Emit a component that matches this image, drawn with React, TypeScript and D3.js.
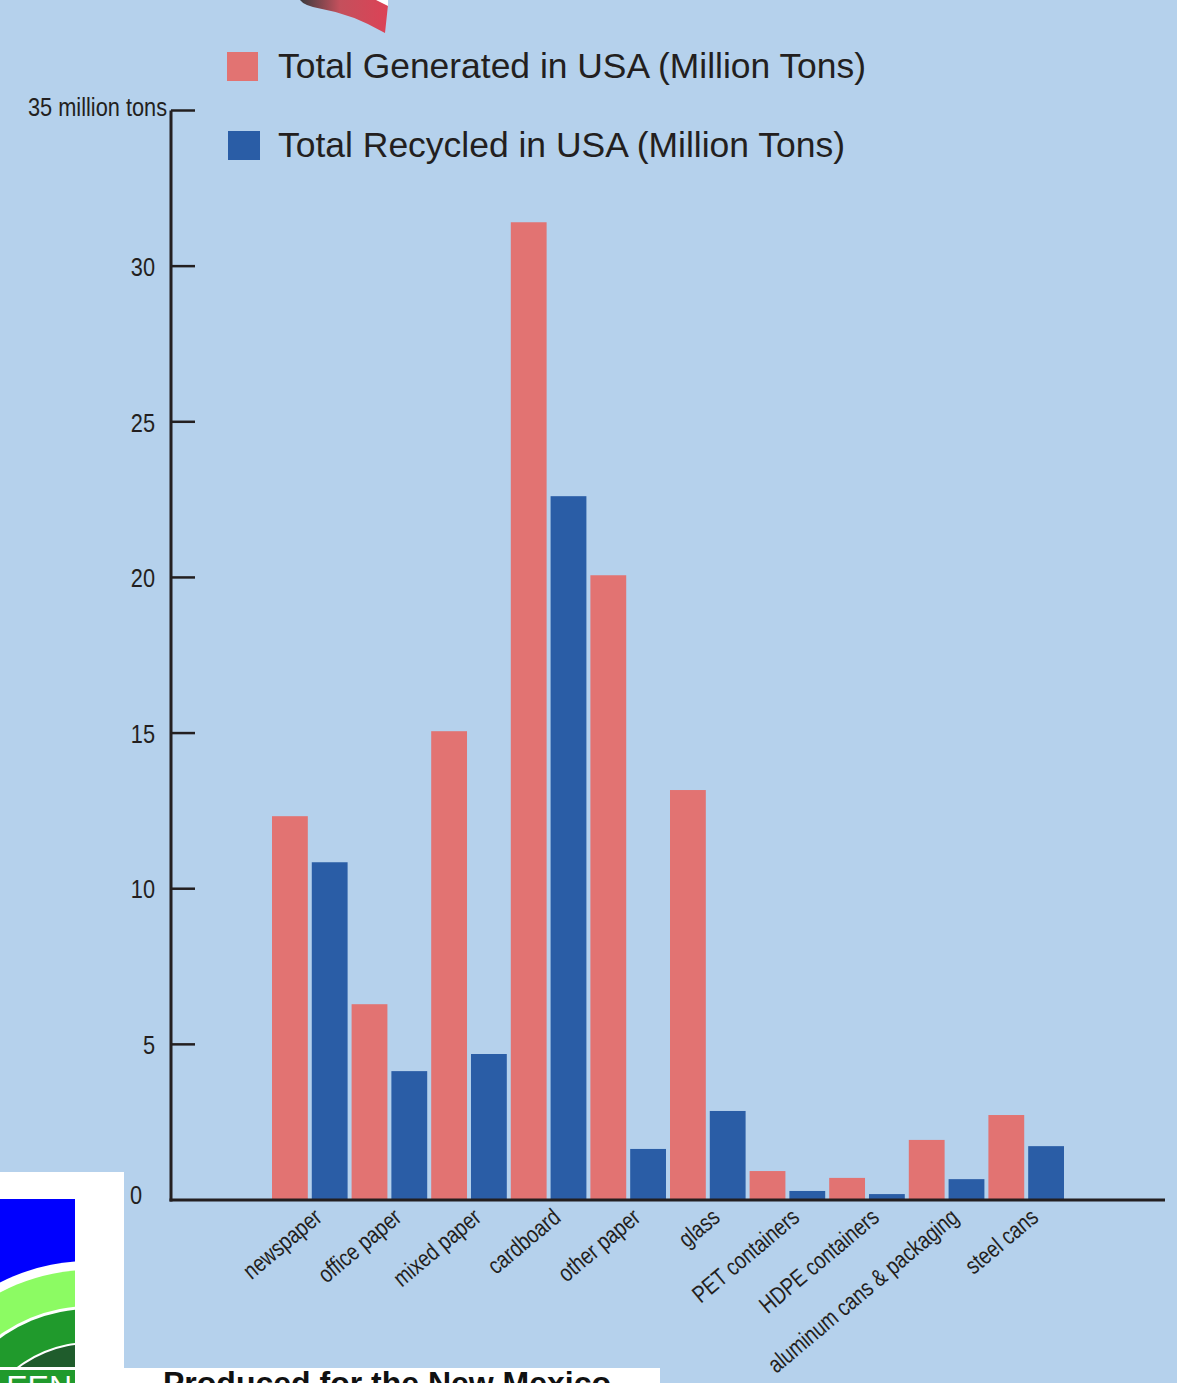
import React from 'react';
import * as d3 from 'd3';

const categories = [
  'newspaper',
  'office paper',
  'mixed paper',
  'cardboard',
  'other paper',
  'glass',
  'PET containers',
  'HDPE containers',
  'aluminum cans & packaging',
  'steel cans',
];

const seriesNames = ['Total Generated in USA (Million Tons)', 'Total Recycled in USA (Million Tons)'];
const generated = [12.33, 6.29, 15.06, 31.41, 20.07, 13.17, 0.93, 0.71, 1.93, 2.73];
const recycled = [10.85, 4.14, 4.69, 22.61, 1.64, 2.86, 0.29, 0.19, 0.67, 1.73];
const yTicks = [0, 5, 10, 15, 20, 25, 30];
const topTickLabel = '35 million tons';

const WIDTH = 1177;
const HEIGHT = 1383;
const BG = '#b5d1ec';
const COLORS = ['#e27372', '#2a5da6'];
const INK = '#231f20';
const SANS = '"Liberation Sans", Arial, sans-serif';
// no narrow face installed, so squeeze the regular one
const SQUEEZE = 0.8;
const TICK_SQUEEZE = 0.87;

export default function App() {
  const y = d3.scaleLinear().domain([0, 35]).range([1200, 110.5]);
  const x0 = d3.scaleBand<string>().domain(categories).range([270, 1066]).padding(0);
  const x1 = d3.scaleBand<number>()
    .domain([0, 1])
    .range([2, x0.bandwidth() - 2])
    .paddingInner(0.1);

  const series = [generated, recycled];
  const axisX = 171;
  const baseY = y(0);

  return (
    <svg
      width={WIDTH}
      height={HEIGHT}
      style={{ position: 'absolute', left: 0, top: 0, background: BG }}
    >
      <defs>
        <linearGradient id="flag" x1="0" x2="1" y1="0" y2="0">
          <stop offset="0" stopColor="#3b3b3d" />
          <stop offset="0.45" stopColor="#c4505c" />
          <stop offset="1" stopColor="#dc4256" />
        </linearGradient>
        <clipPath id="logoClip">
          <rect x={0} y={1199} width={75} height={168} />
        </clipPath>
      </defs>
      <rect width={WIDTH} height={HEIGHT} fill={BG} />

      {/* flag fragment at the top */}
      <path d="M300,0 Q304,6 322,9 Q352,14 385,33 L388,5 L388,0 Z" fill="url(#flag)" />
      <path d="M376,0 L388,0 L388,6 Z" fill="#ffffff" />

      {/* legend */}
      {seriesNames.map((name, i) => (
        <g key={name}>
          <rect x={227 + i} y={52 + i * 79} width={31 + i} height={29} fill={COLORS[i]} />
          <text
            x={278}
            y={78 + i * 79}
            fontFamily={SANS}
            fontSize={35}
            fill={INK}
            textLength={i === 0 ? 588 : 567}
            lengthAdjust="spacingAndGlyphs"
          >
            {name}
          </text>
        </g>
      ))}

      {/* bars */}
      {categories.map((cat, ci) => (
        <g key={cat} transform={`translate(${x0(cat)},0)`}>
          {series.map((vals, si) => (
            <rect
              key={si}
              x={x1(si)}
              y={y(vals[ci])}
              width={x1.bandwidth()}
              height={baseY - y(vals[ci])}
              fill={COLORS[si]}
            />
          ))}
        </g>
      ))}

      {/* axes */}
      <line x1={axisX} x2={axisX} y1={y(35)} y2={baseY + 1.5} stroke={INK} strokeWidth={3} />
      <line x1={axisX - 1.5} x2={1165} y1={baseY} y2={baseY} stroke={INK} strokeWidth={3} />
      {yTicks.filter(t => t > 0).concat([35]).map(t => (
        <line key={t} x1={axisX} x2={195} y1={y(t)} y2={y(t)} stroke={INK} strokeWidth={2.5} />
      ))}
      {yTicks.map(t => (
        <text
          key={t}
          transform={`translate(${t === 0 ? 142 : 155},${y(t) + (t === 0 ? -5 : 1)}) scale(${TICK_SQUEEZE},1)`}
          dy="0.35em"
          textAnchor="end"
          fontFamily={SANS}
          fontSize={25}
          fill={INK}
        >
          {t}
        </text>
      ))}
      <text
        transform={`translate(167,${y(35) - 3}) scale(${TICK_SQUEEZE},1)`}
        dy="0.35em"
        textAnchor="end"
        fontFamily={SANS}
        fontSize={25}
        fill={INK}
      >
        {topTickLabel}
      </text>

      {/* category labels */}
      {categories.map(cat => {
        const cx = (x0(cat) ?? 0) + x0.bandwidth() / 2 + 2;
        return (
          <text
            key={cat}
            transform={`translate(${cx},${1206}) rotate(-40) scale(${SQUEEZE},1)`}
            textAnchor="end"
            dy="0.75em"
            fontFamily={SANS}
            fontSize={24}
            fill={INK}
          >
            {cat}
          </text>
        );
      })}

      {/* logo fragment bottom-left */}
      <rect x={0} y={1172} width={124} height={196} fill="#ffffff" />
      <rect x={0} y={1368} width={660} height={15} fill="#ffffff" />
      <g clipPath="url(#logoClip)">
        <rect x={0} y={1199} width={75} height={168} fill="#0000ff" />
        <circle cx={90} cy={1461} r={200} fill="#ffffff" />
        <circle cx={90} cy={1461} r={191} fill="#8cfb63" />
        <circle cx={90} cy={1461} r={155} fill="#ffffff" />
        <circle cx={90} cy={1461} r={152} fill="#209a2c" />
        <circle cx={90} cy={1461} r={119} fill="#ffffff" />
        <circle cx={90} cy={1461} r={117} fill="#1f5c2c" />
      </g>
      <rect x={0} y={1370} width={75} height={13} fill="#209a2c" />
      <text x={72} y={1398} textAnchor="end" fontFamily={SANS} fontSize={32} fill="#ffffff">
        EEN
      </text>
      <text x={163} y={1394} fontFamily={SANS} fontWeight="bold" fontSize={32} fill="#111111">
        Produced for the New Mexico
      </text>
    </svg>
  );
}
